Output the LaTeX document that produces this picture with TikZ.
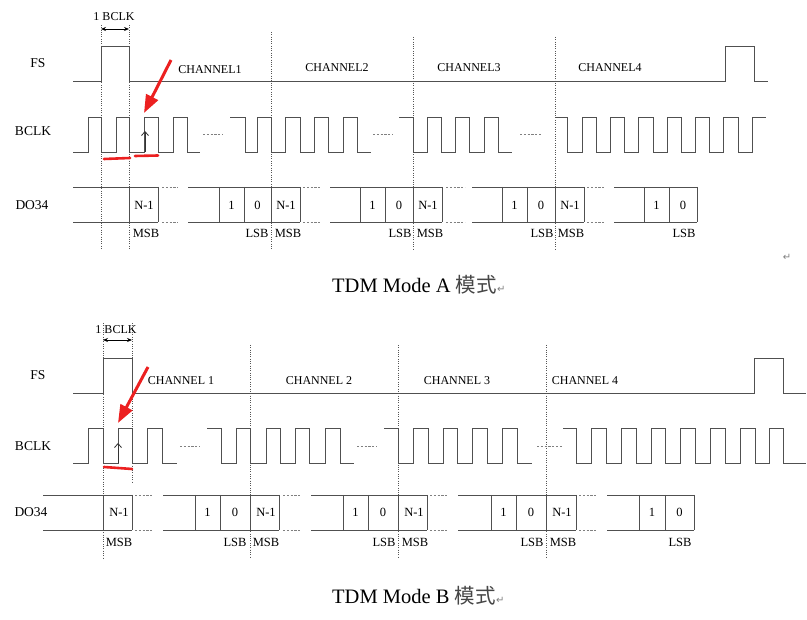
\documentclass[tikz,border=0pt]{standalone}
\usepackage{fontspec}
\setmainfont{Liberation Serif}
\newfontfamily\cjkfont{Noto Sans CJK SC}
\newfontfamily\symfont{DejaVu Sans}
\usetikzlibrary{arrows.meta}
\definecolor{wavecol}{RGB}{80,80,80}
\definecolor{gridcol}{RGB}{85,85,85}
\definecolor{redmk}{RGB}{236,32,32}
\definecolor{cjkgray}{RGB}{70,70,70}
\tikzset{
  wave/.style={draw=wavecol, line width=0.9pt},
  vgrid/.style={draw=gridcol, line width=0.7pt, dash pattern=on 1pt off 1.3pt},
  gapline/.style={draw=gridcol!75, line width=0.7pt, dash pattern=on 2.2pt off 1.6pt},
  rowlbl/.style={font=\fontsize{13.5}{15}\selectfont, inner sep=0pt},
  chlbl/.style={font=\fontsize{12}{14}\selectfont, inner sep=0pt},
  bittxt/.style={font=\fontsize{12.5}{14}\selectfont, inner sep=0pt},
  sblbl/.style={font=\fontsize{12.5}{14}\selectfont, inner sep=0pt},
  redarrow/.style={draw=redmk, line width=3pt, -{Triangle[length=18pt,width=13pt]}},
  redline/.style={draw=redmk, line width=2.6pt, line cap=round},
  riseup/.style={draw=black!80, line width=0.8pt, -{Straight Barb[length=4pt,width=7pt]}},
  bclkspan/.style={draw=black, line width=0.8pt, {Stealth[length=5pt,width=4pt]}-{Stealth[length=5pt,width=4pt]}},
  captxt/.style={font=\fontsize{20.5}{23}\selectfont, inner sep=0pt, anchor=base west},
  retmark/.style={font=\symfont\fontsize{10}{11}\selectfont, text=gray, inner sep=0pt},
}
\begin{document}
\begin{tikzpicture}[x=1pt, y=-1pt]
\useasboundingbox (0,0) rectangle (807,620);
\fill[white] (0,0) rectangle (807,620);

%================ TDM MODE A =================
% grid lines
\foreach \x in {101,129} \draw[vgrid] (\x,25) -- (\x,250);
\draw[vgrid] (271,32) -- (271,250);
\draw[vgrid] (413,37) -- (413,250);
\draw[vgrid] (555,37) -- (555,250);

% 1 BCLK
\node[font=\fontsize{12}{13}\selectfont, inner sep=0pt] (spanA) at (114,17) {1 BCLK};
\coordinate (sA1) at (101,29);
\coordinate (sA2) at (129,29);
\draw[bclkspan] (sA1) -- (sA2);

% row labels
\node[rowlbl] (fsA) at (38,63) {FS};
\node[rowlbl] (bclkA) at (33,131) {BCLK};
\node[rowlbl] (doA) at (32,205) {DO34};

% channel labels
\node[chlbl] (ch1A) at (210,70) {CHANNEL1};
\node[chlbl] (ch2A) at (337,68) {CHANNEL2};
\node[chlbl] (ch3A) at (469,68) {CHANNEL3};
\node[chlbl] (ch4A) at (610,68) {CHANNEL4};

% FS
\draw[wave] (73,81) -| (101,46) -| (129,81) -| (725,46) -| (754,81) -- (768,81);

% BCLK
\draw[wave] (73,152) -| (88,117) -| (101,152) -| (116,117) -| (129,152) -| (144,117) -| (158,152) -| (173,117) -| (187,152) -- (200,152);
\draw[gapline] (203,134) -- (223,134);
\draw[wave] (230,117) -| (245,152) -| (257,117) -| (271,152) -| (285,117) -| (300,152) -| (314,117) -| (328,152) -| (343,117) -| (357,152) -- (371,152);
\draw[gapline] (373,134) -- (393,134);
\draw[wave] (399,117) -| (413,152) -| (427,117) -| (441,152) -| (455,117) -| (469,152) -| (484,117) -| (498,152) -- (512,152);
\draw[gapline] (520,134) -- (542,134);
\draw[wave] (555,117) -| (567,152) -| (582,117) -| (596,152) -| (610,117) -| (624,152) -| (638,117) -| (653,152) -| (667,117) -| (681,152) -| (695,117) -| (709,152) -| (723,117) -| (738,152) -| (752,117) -- (766,117);

% DO34
\draw[wave] (73,187) -- (158,187) (73,222) -- (158,222);
\foreach \x in {129,158} \draw[wave] (\x,187) -- (\x,222);
\draw[gapline] (162,187) -- (178,187) (162,222) -- (178,222);
\draw[wave] (188,187) -- (300,187) (188,222) -- (300,222);
\foreach \x in {219,244,271,300} \draw[wave] (\x,187) -- (\x,222);
\draw[gapline] (303,187) -- (320,187) (303,222) -- (320,222);
\draw[wave] (330,187) -- (442,187) (330,222) -- (442,222);
\foreach \x in {360,385,413,442} \draw[wave] (\x,187) -- (\x,222);
\draw[gapline] (446,187) -- (465,187) (446,222) -- (465,222);
\draw[wave] (472,187) -- (584,187) (472,222) -- (584,222);
\foreach \x in {502,527,555,584} \draw[wave] (\x,187) -- (\x,222);
\draw[gapline] (587,187) -- (604,187) (587,222) -- (604,222);
\draw[wave] (614,187) -- (697,187) (614,222) -- (697,222);
\foreach \x in {644,669,697} \draw[wave] (\x,187) -- (\x,222);

% bits A
\node[bittxt] (nA1) at (144,205) {N-1};
\node[bittxt] (oA1) at (231.5,205) {1};
\node[bittxt] (zA1) at (257.5,205) {0};
\node[bittxt] (nA2) at (286,205) {N-1};
\node[bittxt] (oA2) at (372.5,205) {1};
\node[bittxt] (zA2) at (399,205) {0};
\node[bittxt] (nA3) at (428,205) {N-1};
\node[bittxt] (oA3) at (514.5,205) {1};
\node[bittxt] (zA3) at (541,205) {0};
\node[bittxt] (nA4) at (570,205) {N-1};
\node[bittxt] (oA4) at (656.5,205) {1};
\node[bittxt] (zA4) at (683,205) {0};

% MSB / LSB A
\node[sblbl] (mA1) at (146,233) {MSB};
\node[sblbl] (lA1) at (257,233) {LSB};
\node[sblbl] (mA2) at (288,233) {MSB};
\node[sblbl] (lA2) at (400,233) {LSB};
\node[sblbl] (mA3) at (430,233) {MSB};
\node[sblbl] (lA3) at (542,233) {LSB};
\node[sblbl] (mA4) at (571,233) {MSB};
\node[sblbl] (lA4) at (684,233) {LSB};

% red marks A
\coordinate (rA1) at (171,60);
\coordinate (rA2) at (144,113);
\draw[redarrow] (rA1) -- (rA2);
\draw[redline] (104,159) -- (130,158);
\draw[redline] (135,156) -- (158,155.5);
\coordinate (uA1) at (145,152);
\coordinate (uA2) at (145,131);
\draw[riseup] (uA1) -- (uA2);

% caption A
\node[captxt] (capA) at (332,293) {TDM Mode A {\cjkfont\color{cjkgray}模式}};
\node[retmark, anchor=base west] (retA1) at (capA.base east) {↵};
\node[retmark] (retA2) at (787,257) {↵};

%================ TDM MODE B =================
\draw[vgrid] (103,323) -- (103,558);
\draw[vgrid] (132,323) -- (132,482);
\foreach \x in {250,398,546} \draw[vgrid] (\x,345) -- (\x,558);

\node[font=\fontsize{12}{13}\selectfont, inner sep=0pt] (spanB) at (116,330) {1 BCLK};
\coordinate (sB1) at (103,340);
\coordinate (sB2) at (132,340);
\draw[bclkspan] (sB1) -- (sB2);

\node[rowlbl] (fsB) at (38,375) {FS};
\node[rowlbl] (bclkB) at (33,446) {BCLK};
\node[rowlbl] (doB) at (31,512) {DO34};

\node[chlbl] (ch1B) at (181,381) {CHANNEL 1};
\node[chlbl] (ch2B) at (319,381) {CHANNEL 2};
\node[chlbl] (ch3B) at (457,381) {CHANNEL 3};
\node[chlbl] (ch4B) at (585,381) {CHANNEL 4};

% FS
\draw[wave] (73,393) -| (103,358) -| (132,393) -| (754,358) -| (783,393) -- (806,393);

% BCLK
\draw[wave] (73,463) -| (88,428) -| (103,463) -| (118,428) -| (132,463) -| (147,428) -| (162,463) -- (177,463);
\draw[gapline] (180,446) -- (200,446);
\draw[wave] (207,428) -| (221,463) -| (236,428) -| (250,463) -| (266,428) -| (280,463) -| (295,428) -| (309,463) -| (325,428) -| (340,463) -- (354,463);
\draw[gapline] (357,446) -- (377,446);
\draw[wave] (384,428) -| (398,463) -| (413,428) -| (428,463) -| (443,428) -| (457,463) -| (472,428) -| (487,463) -| (502,428) -| (517,463) -- (532,463);
\draw[gapline] (537,446) -- (562,446);
\draw[wave] (563,428) -| (576,463) -| (591,428) -| (606,463) -| (621,428) -| (636,463) -| (651,428) -| (665,463) -| (680,428) -| (695,463) -| (710,428) -| (725,463) -| (740,428) -| (755,463) -| (769,428) -| (783,463) -- (806,463);

% DO34
\draw[wave] (43,495) -- (132,495) (43,530) -- (132,530);
\foreach \x in {103,132} \draw[wave] (\x,495) -- (\x,530);
\draw[gapline] (135,495) -- (153,495) (135,530) -- (153,530);
\draw[wave] (163,495) -- (279,495) (163,530) -- (279,530);
\foreach \x in {195,220,250,279} \draw[wave] (\x,495) -- (\x,530);
\draw[gapline] (283,495) -- (300,495) (283,530) -- (300,530);
\draw[wave] (311,495) -- (427,495) (311,530) -- (427,530);
\foreach \x in {343,368,398,427} \draw[wave] (\x,495) -- (\x,530);
\draw[gapline] (430,495) -- (448,495) (430,530) -- (448,530);
\draw[wave] (458,495) -- (576,495) (458,530) -- (576,530);
\foreach \x in {491,516,546,576} \draw[wave] (\x,495) -- (\x,530);
\draw[gapline] (579,495) -- (597,495) (579,530) -- (597,530);
\draw[wave] (607,495) -- (694,495) (607,530) -- (694,530);
\foreach \x in {639,665,694} \draw[wave] (\x,495) -- (\x,530);

% bits B
\node[bittxt] (nB1) at (119,512) {N-1};
\node[bittxt] (oB1) at (207.5,512) {1};
\node[bittxt] (zB1) at (235,512) {0};
\node[bittxt] (nB2) at (266,512) {N-1};
\node[bittxt] (oB2) at (355.5,512) {1};
\node[bittxt] (zB2) at (383,512) {0};
\node[bittxt] (nB3) at (414,512) {N-1};
\node[bittxt] (oB3) at (503.5,512) {1};
\node[bittxt] (zB3) at (531,512) {0};
\node[bittxt] (nB4) at (562,512) {N-1};
\node[bittxt] (oB4) at (652,512) {1};
\node[bittxt] (zB4) at (679.5,512) {0};

% MSB / LSB B
\node[sblbl] (mB1) at (119,542) {MSB};
\node[sblbl] (lB1) at (235,542) {LSB};
\node[sblbl] (mB2) at (266,542) {MSB};
\node[sblbl] (lB2) at (384,542) {LSB};
\node[sblbl] (mB3) at (415,542) {MSB};
\node[sblbl] (lB3) at (532,542) {LSB};
\node[sblbl] (mB4) at (563,542) {MSB};
\node[sblbl] (lB4) at (680,542) {LSB};

% red marks B
\coordinate (rB1) at (148,367);
\coordinate (rB2) at (118,423);
\draw[redarrow] (rB1) -- (rB2);
\draw[redline] (104,467) -- (132,469);
\coordinate (uB1) at (118,463);
\coordinate (uB2) at (118,443);
\draw[riseup] (uB1) -- (uB2);

% caption B
\node[captxt] (capB) at (332,603) {TDM Mode B {\cjkfont\color{cjkgray}模式}};
\node[retmark, anchor=base west] (retB1) at (capB.base east) {↵};
\end{tikzpicture}
\end{document}
